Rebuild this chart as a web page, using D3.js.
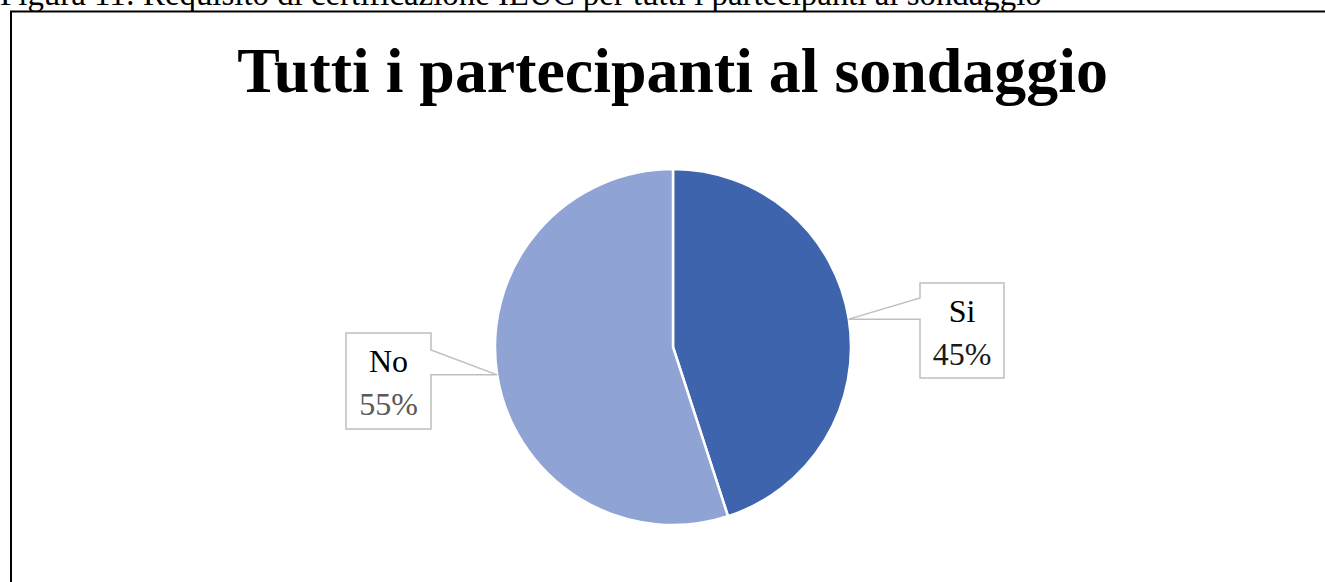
<!DOCTYPE html>
<html><head><meta charset="utf-8">
<script src="https://cdn.jsdelivr.net/npm/d3@7"></script>
<style>html,body{margin:0;padding:0;background:#fff;overflow:hidden}</style>
</head><body>
<svg id="c" width="1325" height="582"></svg>
<script>
const categories = ["Si", "No"];
const values = [45, 55];
const valueLabels = ["45%", "55%"];
const colors = ["#3E64AD", "#8FA4D4"];
const title = "Tutti i partecipanti al sondaggio";
const caption = "Figura 11: Requisito di certificazione IEUC per tutti i partecipanti al sondaggio";

const svg = d3.select("#c");
const serif = "'Liberation Serif','Times New Roman',serif";

function fitWidth(sel, target) {
  const fs = +sel.attr("font-size");
  const w = sel.node().getComputedTextLength();
  if (w > 0) sel.attr("font-size", fs * target / w);
}

const cap = svg.append("text").attr("x", 0).attr("y", 5)
  .attr("font-family", serif).attr("font-size", 26).attr("fill", "#000")
  .text(caption);
fitWidth(cap, 1042);

svg.append("rect").attr("x", 11).attr("y", 11.5).attr("width", 1400).attr("height", 700)
  .attr("fill", "none").attr("stroke", "#000").attr("stroke-width", 2);

const tt = svg.append("text").attr("x", 672.5).attr("y", 92).attr("text-anchor", "middle")
  .attr("font-family", serif).attr("font-weight", "bold").attr("font-size", 64)
  .text(title);
fitWidth(tt, 871);

const cx = 673, cy = 347, r = 178;
const pie = d3.pie().sort(null).value(d => d)(values);
const arc = d3.arc().innerRadius(0).outerRadius(r);
const g = svg.append("g").attr("transform", `translate(${cx},${cy})`);
g.selectAll("path").data(pie).join("path")
  .attr("d", arc).attr("fill", (d, i) => colors[i])
  .attr("stroke", "#fff").attr("stroke-width", 2.5);

// callout boxes
const boxes = [
  {x0: 920, x1: 1004, y0: 283, y1: 378, side: "left", n0: 298},
  {x0: 346, x1: 431, y0: 333, y1: 429, side: "right", n0: 350}
];
pie.forEach((d, i) => {
  const a = (d.startAngle + d.endAngle) / 2;
  const px = cx + r * Math.sin(a), py = cy - r * Math.cos(a);
  const b = boxes[i];
  let pts;
  if (b.side === "left") {
    pts = [[b.x0, b.y0], [b.x1, b.y0], [b.x1, b.y1], [b.x0, b.y1], [b.x0, py], [px, py], [b.x0, b.n0]];
  } else {
    pts = [[b.x0, b.y0], [b.x1, b.y0], [b.x1, b.n0], [px, py], [b.x1, py], [b.x1, b.y1], [b.x0, b.y1]];
  }
  svg.append("path").attr("d", d3.line()(pts) + "Z")
    .attr("fill", "#fff").attr("stroke", "#BFBFBF").attr("stroke-width", 1.5);
  const tx = (b.x0 + b.x1) / 2;
  svg.append("text").attr("x", tx).attr("y", b.y0 + 39).attr("text-anchor", "middle")
    .attr("font-family", serif).attr("font-size", 32).attr("fill", "#000").text(categories[i]);
  svg.append("text").attr("x", tx).attr("y", b.y0 + 82).attr("text-anchor", "middle")
    .attr("font-family", serif).attr("font-size", 32).attr("fill", i === 0 ? "#1a1a1a" : "#595959").text(valueLabels[i]);
});
</script>
</body></html>
